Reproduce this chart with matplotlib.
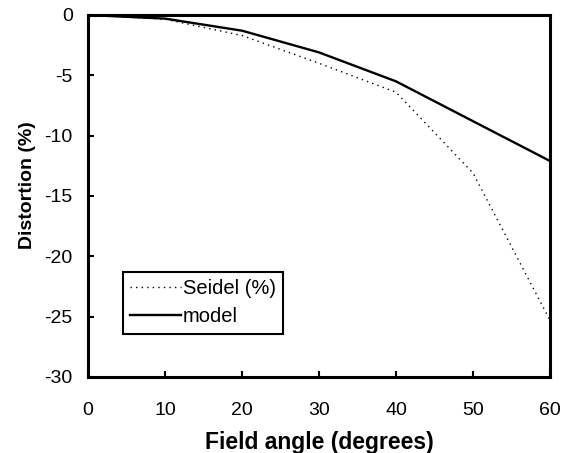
import matplotlib.pyplot as plt

plt.rcParams['font.family'] = ['Liberation Sans', 'DejaVu Sans']
plt.rcParams['axes.unicode_minus'] = False

# field angle (degrees)
angle = [0, 10, 20, 30, 40, 50, 60]
# distortion (%)
seidel = [0, -0.35, -1.7, -4.0, -6.4, -13.1, -25.3]
model = [0, -0.3, -1.3, -3.1, -5.5, -8.8, -12.1]

fig = plt.figure(figsize=(5.69, 4.53), dpi=100)
ax = fig.add_axes([0.1547, 0.1678, 0.8119, 0.7991])

ax.plot(angle, seidel, color='black', linestyle=(0, (1, 3)), linewidth=1.0, label='Seidel (%)')
ax.plot(angle, model, color='black', linestyle='-', linewidth=1.7, label='model')

ax.set_xlim(0, 60)
ax.set_ylim(-30, 0)
ax.set_xticks(range(0, 61, 10))
ax.set_yticks(range(-30, 1, 5))

for s in ax.spines.values():
    s.set_linewidth(2.2)
ax.tick_params(direction='in', length=4, width=1.5, labelsize=14)
ax.tick_params(axis='x', pad=18)
ax.tick_params(axis='y', pad=11)

ax.set_xlabel('Field angle (degrees)', fontsize=16.5, fontweight='bold', labelpad=9)
ax.set_ylabel('Distortion (%)', fontsize=14, fontweight='bold')
ax.yaxis.set_label_coords(-0.113, 0.53)

leg = ax.legend(loc='lower left', bbox_to_anchor=(0.076, 0.12), borderaxespad=0,
                fontsize=14.5, fancybox=False, framealpha=1, edgecolor='black',
                handlelength=2.5, handletextpad=0.1, borderpad=0.35, labelspacing=0.45)
leg.get_frame().set_linewidth(1.5)

fig.savefig('out.png', dpi=100)
